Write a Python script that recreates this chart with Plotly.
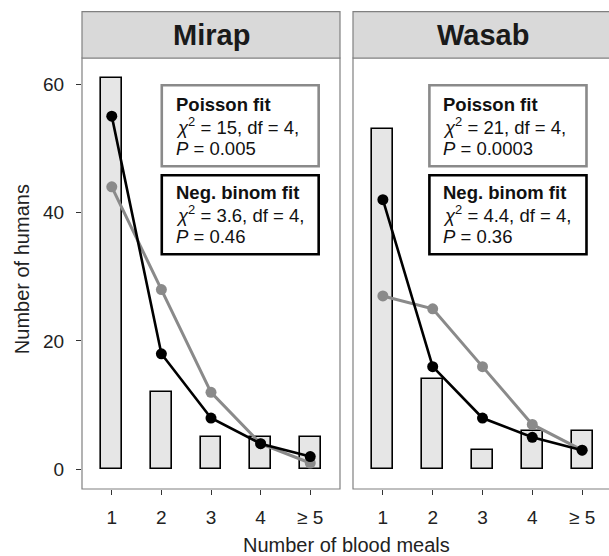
import plotly.graph_objects as go

# ---------------- data ----------------
sites = ["Mirap", "Wasab"]
meal_x = [1, 2, 3, 4, 5]
meal_labels = ["1", "2", "3", "4", "≥ 5"]

observed = {
    "Mirap": [61, 12, 5, 5, 5],
    "Wasab": [53, 14, 3, 6, 6],
}
poisson_fit = {
    "Mirap": [44, 28, 12, 4, 1],
    "Wasab": [27, 25, 16, 7, 3],
}
negbinom_fit = {
    "Mirap": [55, 18, 8, 4, 2],
    "Wasab": [42, 16, 8, 5, 3],
}
poisson_text = {
    "Mirap": ["<b>Poisson fit</b>", "<i>χ</i><sup>2</sup> = 15, df = 4,", "<i>P</i> = 0.005"],
    "Wasab": ["<b>Poisson fit</b>", "<i>χ</i><sup>2</sup> = 21, df = 4,", "<i>P</i> = 0.0003"],
}
negbinom_text = {
    "Mirap": ["<b>Neg. binom fit</b>", "<i>χ</i><sup>2</sup> = 3.6, df = 4,", "<i>P</i> = 0.46"],
    "Wasab": ["<b>Neg. binom fit</b>", "<i>χ</i><sup>2</sup> = 4.4, df = 4,", "<i>P</i> = 0.36"],
}
y_ticks = [0, 20, 40, 60]

# ---------------- styling ----------------
FONT = "Liberation Sans, Arial, sans-serif"
GRAY = "#8a8a8a"
BORDER = "#808080"
W, H = 609, 556
ML, MR, MT, MB = 82, 0, 58, 67
plot_w = W - ML - MR
plot_h = H - MT - MB

dom1 = [0.0, (340 - ML) / plot_w]
dom2 = [(353 - ML) / plot_w, 1.0]
yrange = [-3.05, 64.05]

fig = go.Figure()

axes = [("x", "y"), ("x2", "y2")]
for site, (xa, ya) in zip(sites, axes):
    fig.add_trace(go.Bar(
        x=meal_x, y=observed[site], width=0.42,
        marker=dict(color="#e6e6e6", line=dict(color="black", width=1.6)),
        xaxis=xa, yaxis=ya, showlegend=False,
    ))
    fig.add_trace(go.Scatter(
        x=meal_x, y=poisson_fit[site], mode="lines+markers",
        line=dict(color=GRAY, width=3), marker=dict(color=GRAY, size=11),
        xaxis=xa, yaxis=ya, showlegend=False,
    ))
    fig.add_trace(go.Scatter(
        x=meal_x, y=negbinom_fit[site], mode="lines+markers",
        line=dict(color="black", width=2.6), marker=dict(color="black", size=11),
        xaxis=xa, yaxis=ya, showlegend=False,
    ))

tick_common = dict(
    tickvals=meal_x, ticktext=meal_labels, ticks="outside", ticklen=5,
    tickcolor="#333", tickwidth=1, showgrid=False, zeroline=False, showline=False,
    tickfont=dict(family=FONT, size=19, color="#222"), ticklabelstandoff=6,
    fixedrange=True,
)
fig.update_layout(
    xaxis=dict(domain=dom1, range=[0.4, 5.6], anchor="y", **tick_common),
    xaxis2=dict(domain=dom2, range=[0.4, 5.6 - 3 / 49.9], anchor="y2", **tick_common),
    yaxis=dict(domain=[0, 1], range=yrange, tickvals=y_ticks, ticks="outside",
               ticklen=5, tickcolor="#333", showgrid=False, zeroline=False,
               showline=False, tickfont=dict(family=FONT, size=19, color="#222"),
               ticklabelstandoff=8),
    yaxis2=dict(domain=[0, 1], range=yrange, anchor="x2", showticklabels=False,
                ticks="", showgrid=False, zeroline=False, showline=False),
)

shapes = []
annotations = []
strip_top = 1 + (MT - 11.7) / plot_h
panel_right = [1.0, (612 - 353) / (W - 353)]
box_x = {"Mirap": (2.008, 5.17, 2.25), "Wasab": (1.934, 5.088, 2.16)}
pois_box_y = (59.8, 47.2)
nb_box_y = (45.8, 33.5)
pois_line_y = [56.8, 53.4, 50.0]
nb_line_y = [43.1, 39.7, 36.2]

for i, site in enumerate(sites):
    xa, ya = axes[i]
    # panel border
    shapes.append(dict(type="rect", xref=f"{xa} domain", yref=f"{ya} domain",
                       x0=0, x1=panel_right[i], y0=0, y1=1,
                       line=dict(color=BORDER, width=1.2), layer="above"))
    # strip
    shapes.append(dict(type="rect", xref=f"{xa} domain", yref="paper",
                       x0=0, x1=panel_right[i], y0=1, y1=strip_top,
                       fillcolor="#d9d9d9", line=dict(color=BORDER, width=1.2)))
    annotations.append(dict(xref=f"{xa} domain", yref="paper",
                            x=panel_right[i] / 2, y=(1 + strip_top) / 2,
                            text=f"<b>{site}</b>", showarrow=False,
                            font=dict(family=FONT, size=29, color="#1a1a1a"),
                            xanchor="center", yanchor="middle"))
    bx0, bx1, tx = box_x[site]
    # fit boxes
    shapes.append(dict(type="rect", xref=xa, yref=ya, x0=bx0, x1=bx1,
                       y0=pois_box_y[1], y1=pois_box_y[0], fillcolor="white",
                       line=dict(color=GRAY, width=2.6), layer="above"))
    shapes.append(dict(type="rect", xref=xa, yref=ya, x0=bx0, x1=bx1,
                       y0=nb_box_y[1], y1=nb_box_y[0], fillcolor="white",
                       line=dict(color="black", width=2.6), layer="above"))
    for txt, yy in zip(poisson_text[site], pois_line_y):
        annotations.append(dict(xref=xa, yref=ya, x=tx, y=yy, text=txt,
                                showarrow=False, xanchor="left", yanchor="middle",
                                font=dict(family=FONT, size=18.5, color="#111")))
    for txt, yy in zip(negbinom_text[site], nb_line_y):
        annotations.append(dict(xref=xa, yref=ya, x=tx, y=yy, text=txt,
                                showarrow=False, xanchor="left", yanchor="middle",
                                font=dict(family=FONT, size=18.5, color="#111")))

# axis titles
annotations.append(dict(xref="paper", yref="paper", x=(22 - ML) / plot_w, y=0.51,
                        text="Number of humans", textangle=-90, showarrow=False,
                        xanchor="center", yanchor="middle",
                        font=dict(family=FONT, size=20, color="#222")))
annotations.append(dict(xref="paper", yref="paper", x=(346 - ML) / plot_w,
                        y=(489 - 545) / plot_h, text="Number of blood meals",
                        showarrow=False, xanchor="center", yanchor="middle",
                        font=dict(family=FONT, size=20, color="#222")))

fig.update_layout(
    width=W, height=H,
    margin=dict(l=ML, r=MR, t=MT, b=MB, pad=0),
    paper_bgcolor="white", plot_bgcolor="white",
    shapes=shapes, annotations=annotations,
    bargap=0, showlegend=False,
    font=dict(family=FONT),
)

fig.write_html("out.html")
